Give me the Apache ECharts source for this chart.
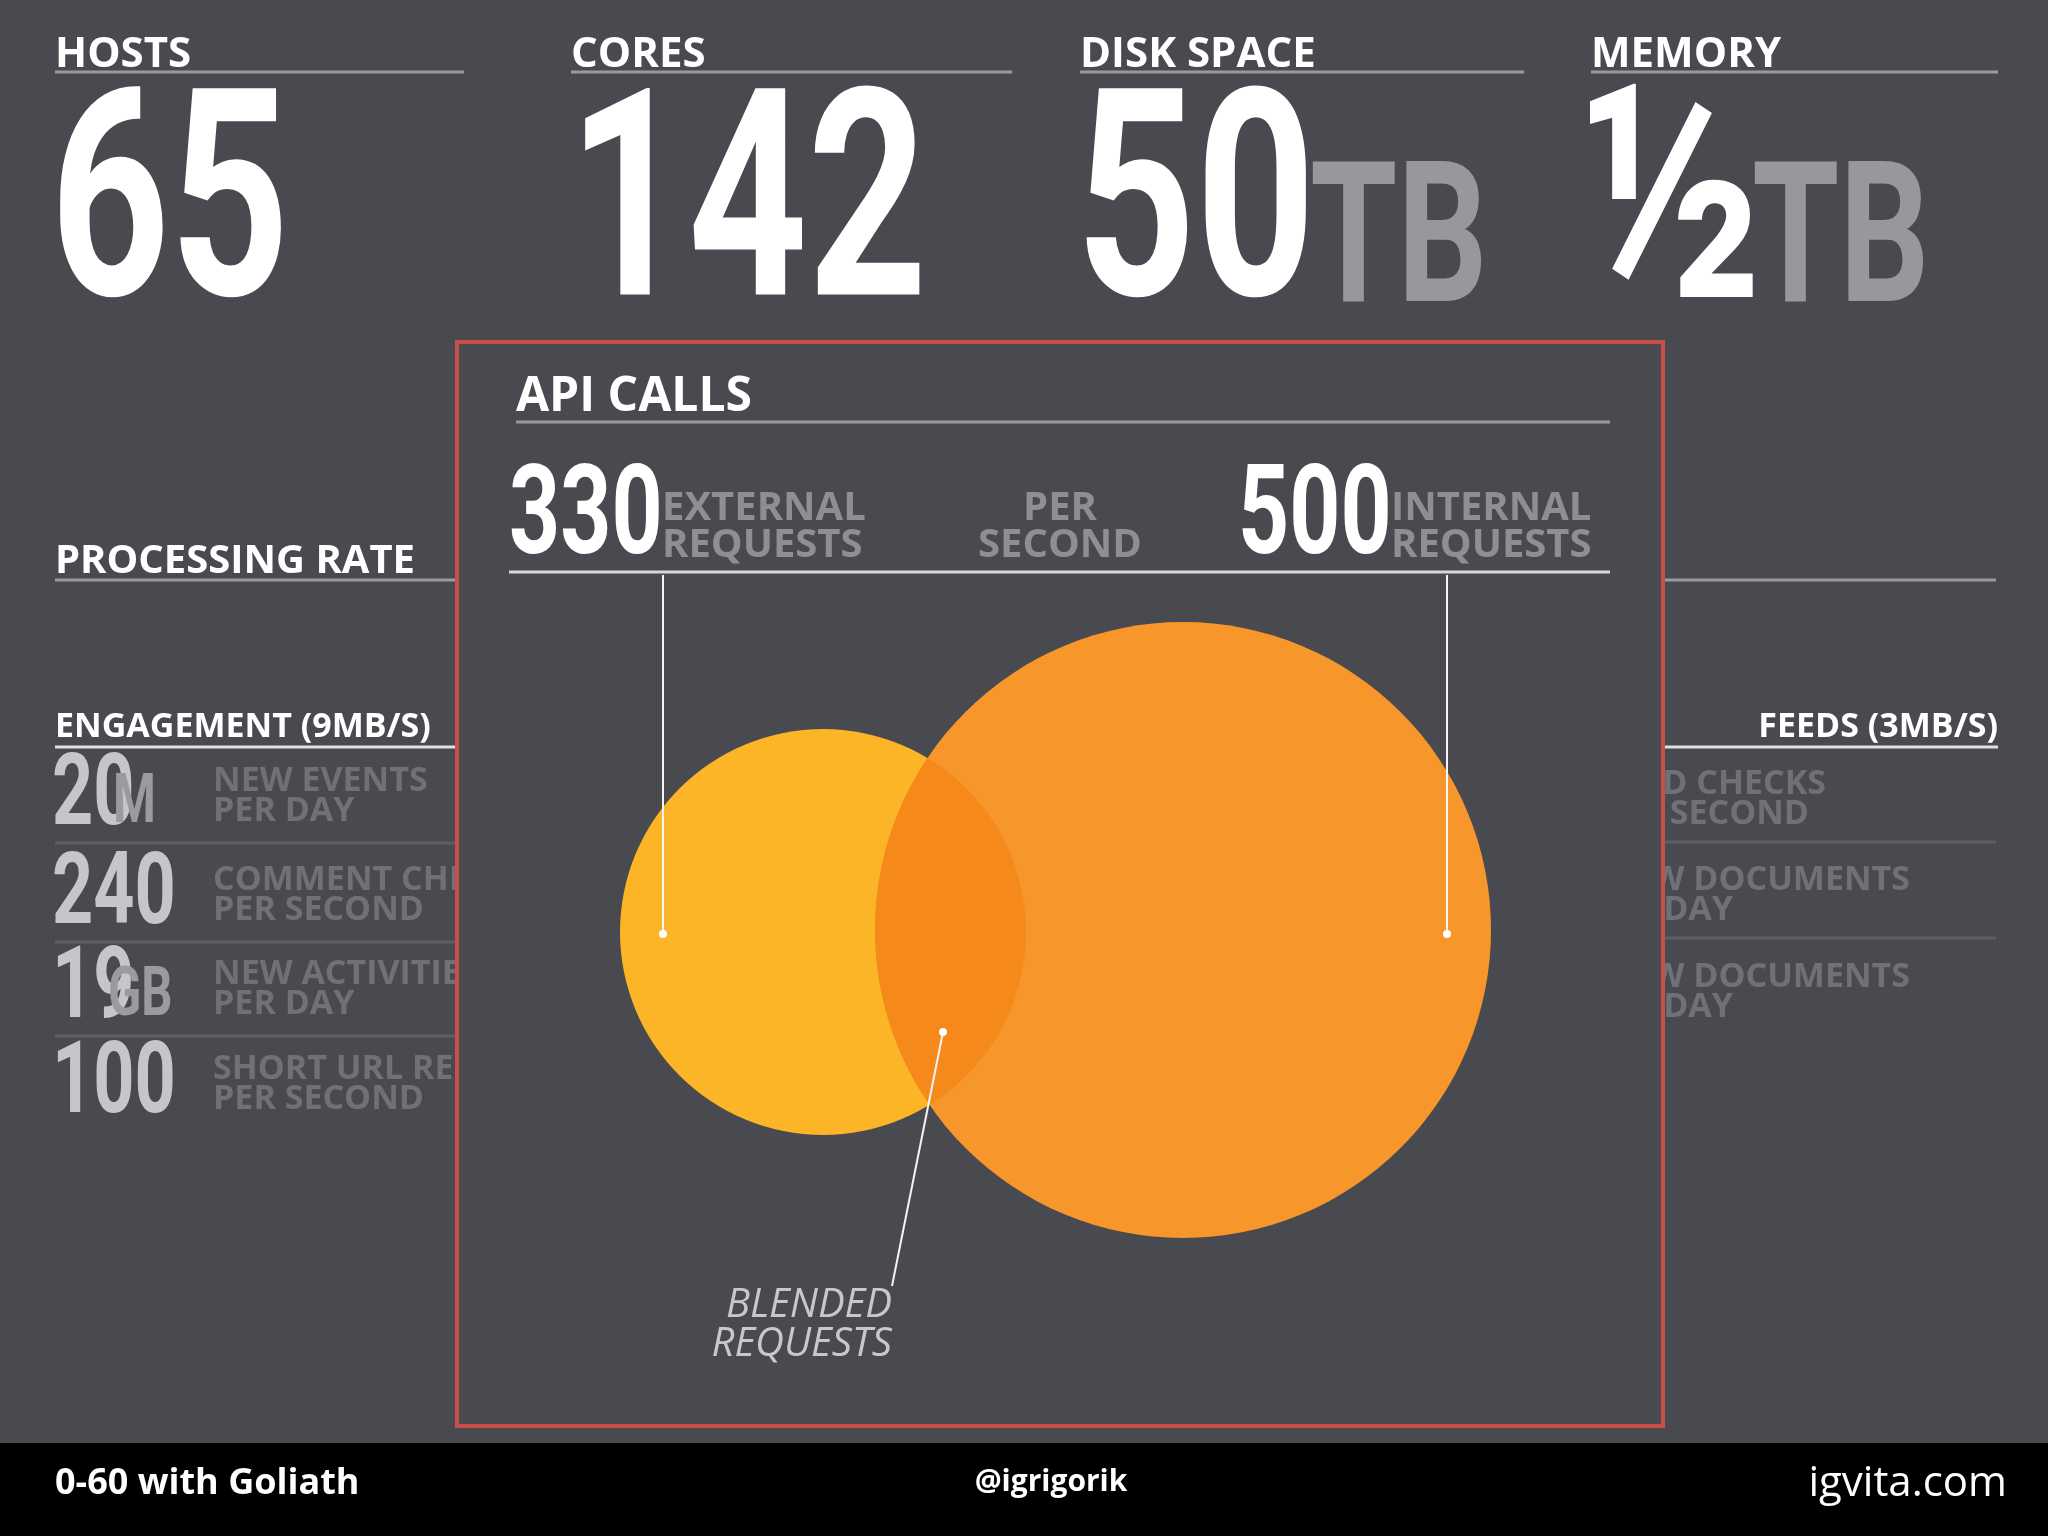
<!DOCTYPE html>
<html><head><meta charset="utf-8">
<script src="https://cdn.jsdelivr.net/npm/echarts@6/dist/echarts.min.js"></script>
<style>html,body{margin:0;padding:0;background:#494a50}#c{width:2048px;height:1536px}</style>
</head><body><div id="c"></div>
<script>
const topLabels = ['HOSTS', 'CORES', 'DISK SPACE', 'MEMORY'];
const topValues = ['65', '142', '50', '½'];
const topUnits = ['', '', 'TB', 'TB'];
const apiTitle = 'API CALLS';
const apiValues = ['330', '500'];
const apiLabels = [['EXTERNAL', 'REQUESTS'], ['PER', 'SECOND'], ['INTERNAL', 'REQUESTS']];
const engagementTitle = 'ENGAGEMENT (9MB/S)';
const engValues = ['20', '240', '19', '100'];
const engUnits = ['M', '', 'GB', ''];
const engLabels = [['NEW EVENTS', 'PER DAY'], ['COMMENT CHECKS', 'PER SECOND'], ['NEW ACTIVITIES', 'PER DAY'], ['SHORT URL REQUESTS', 'PER SECOND']];
const feedsTitle = 'FEEDS (3MB/S)';
const feedLabels = [['FEED CHECKS', 'PER SECOND'], ['NEW DOCUMENTS', 'PER DAY'], ['NEW DOCUMENTS', 'PER DAY']];
const footer = ['0-60 with Goliath', '@igrigorik', 'igvita.com'];

const NARROW = 'Roboto';
const OPEN = '"Open Sans"';
const els = [];
function T(text, x, y, size, fill, o) {
  o = o || {};
  els.push({type: 'text', x: x, y: y, scaleX: o.sx || 1, z: o.z || 5,
    style: {text: text, fill: fill, font: (o.it ? 'italic ' : '') + (o.w || 'bold') + ' ' + size + 'px ' + (o.f || OPEN),
      textAlign: o.a || 'left', textVerticalAlign: 'middle'}});
}
function L(x1, y1, x2, y2, c, w, z) {
  els.push({type: 'line', z: z || 4, shape: {x1: x1, y1: y1, x2: x2, y2: y2}, style: {stroke: c, lineWidth: w}});
}
const tx = [55, 571, 1080, 1591], tEnd = [464, 1012, 1524, 1998];
topLabels.forEach((l, i) => {
  T(l, tx[i], 55, 42, '#ffffff');
  L(tx[i], 72, tEnd[i], 72, '#9a9a9e', 3);
});
T(topValues[0], 50, 222, 290, '#ffffff', {f: NARROW, sx: 0.72});
T(topValues[1], 568, 222, 290, '#ffffff', {f: NARROW, sx: 0.72});
T(topValues[2], 1076, 222, 290, '#ffffff', {f: NARROW, sx: 0.72});
T(topUnits[2], 1310, 252, 196, '#98989c', {f: NARROW, sx: 0.72});
T(topValues[3], 1580, 222, 300, '#ffffff', {f: NARROW, sx: 0.8});
T(topUnits[3], 1752, 252, 196, '#98989c', {f: NARROW, sx: 0.72});

T('PROCESSING RATE', 55, 562, 40, '#ffffff');
L(55, 580, 457, 580, '#9a9a9e', 3);
L(1663, 580, 1996, 580, '#9a9a9e', 3);

T(engagementTitle, 55, 727, 34, '#ffffff');
L(55, 747, 457, 747, '#e0e0e0', 3);
const rowY = [793, 892, 986, 1081];
engValues.forEach((v, i) => {
  T(v, 52, rowY[i] + 6, 100, '#c5c6ca', {f: NARROW, sx: 0.72});
  if (engUnits[i]) T(engUnits[i], i === 0 ? 113 : 108, rowY[i] + 12, 68, '#9a9b9f', {f: NARROW, sx: 0.72});
  T(engLabels[i][0], 213, rowY[i] - 12, 34, '#707176');
  T(engLabels[i][1], 213, rowY[i] + 18, 34, '#707176');
  if (i < 3) L(55, rowY[i] + 50, 457, rowY[i] + 50, '#5d5e64', 3);
});
T(feedsTitle, 1998, 727, 34, '#ffffff', {a: 'right'});
L(1663, 747, 1998, 747, '#e0e0e0', 3);
const fY = [798, 894, 991];
const fEnd = [[1826, 1809], [1910, 1733], [1910, 1733]];
feedLabels.forEach((l, i) => {
  T(l[0], fEnd[i][0], fY[i] - 14, 34, '#707176', {a: 'right'});
  T(l[1], fEnd[i][1], fY[i] + 16, 34, '#707176', {a: 'right'});
  if (i < 2) L(1663, fY[i] + 44, 1996, fY[i] + 44, '#5d5e64', 3);
});

els.push({type: 'rect', z: 10, shape: {x: 457, y: 342, width: 1206, height: 1084},
  style: {fill: '#494a50', stroke: '#c9504a', lineWidth: 4}});
const Z = {z: 12};
T(apiTitle, 516, 397, 48, '#ffffff', Z);
L(516, 422, 1610, 422, '#9a9a9e', 3, 12);
T(apiValues[0], 509, 522, 124, '#ffffff', {f: NARROW, sx: 0.72, z: 12});
T(apiValues[1], 1238, 522, 124, '#ffffff', {f: NARROW, sx: 0.72, z: 12});
T(apiLabels[0][0], 662, 509, 40, '#8e8f94', Z);
T(apiLabels[0][1], 662, 546, 40, '#8e8f94', Z);
T(apiLabels[1][0], 1060, 509, 40, '#8e8f94', {a: 'center', z: 12});
T(apiLabels[1][1], 1060, 546, 40, '#8e8f94', {a: 'center', z: 12});
T(apiLabels[2][0], 1391, 509, 40, '#8e8f94', Z);
T(apiLabels[2][1], 1391, 546, 40, '#8e8f94', Z);
L(509, 572, 1610, 572, '#d8d8d8', 3, 12);

// venn
const C1 = [823, 932, 203], C2 = [1183, 930, 308];
els.push({type: 'circle', z: 13, shape: {cx: C1[0], cy: C1[1], r: C1[2]}, style: {fill: '#fbb526'}});
els.push({type: 'circle', z: 14, shape: {cx: C2[0], cy: C2[1], r: C2[2]}, style: {fill: '#f7962b'}});
(function () {
  const dx = C2[0] - C1[0], dy = C2[1] - C1[1], d = Math.hypot(dx, dy);
  const a = (d * d + C1[2] * C1[2] - C2[2] * C2[2]) / (2 * d);
  const base = Math.atan2(dy, dx);
  const t1 = Math.acos(a / C1[2]), t2 = Math.acos((d - a) / C2[2]);
  const pts = [];
  for (let k = 0; k <= 60; k++) { const t = base - t1 + 2 * t1 * k / 60; pts.push([C1[0] + C1[2] * Math.cos(t), C1[1] + C1[2] * Math.sin(t)]); }
  for (let k = 0; k <= 60; k++) { const t = base + Math.PI - t2 + 2 * t2 * k / 60; pts.push([C2[0] + C2[2] * Math.cos(t), C2[1] + C2[2] * Math.sin(t)]); }
  els.push({type: 'polygon', z: 15, shape: {points: pts}, style: {fill: '#f5891a'}});
})();
L(663, 575, 663, 934, '#f4f4f4', 2, 16);
L(1447, 575, 1447, 934, '#f4f4f4', 2, 16);
L(943, 1032, 892, 1286, '#f4f4f4', 2, 16);
[[663, 934], [1447, 934], [943, 1032]].forEach(p => els.push({type: 'circle', z: 16, shape: {cx: p[0], cy: p[1], r: 4}, style: {fill: '#ffffff'}}));
T('BLENDED', 892, 1306, 40, '#c8c8cc', {a: 'right', it: true, w: 'normal', z: 16});
T('REQUESTS', 892, 1345, 40, '#c8c8cc', {a: 'right', it: true, w: 'normal', z: 16});

els.push({type: 'rect', z: 20, shape: {x: 0, y: 1443, width: 2048, height: 93}, style: {fill: '#000000'}});
T(footer[0], 55, 1484, 36, '#ffffff', {z: 21});
T(footer[1], 1051, 1482, 30, '#ffffff', {a: 'center', z: 21});
T(footer[2], 2007, 1484, 42, '#ffffff', {a: 'right', w: 'normal', z: 21});

const chart = echarts.init(document.getElementById('c'));
chart.setOption({backgroundColor: '#494a50', animation: false, graphic: {elements: els}});
</script></body></html>
